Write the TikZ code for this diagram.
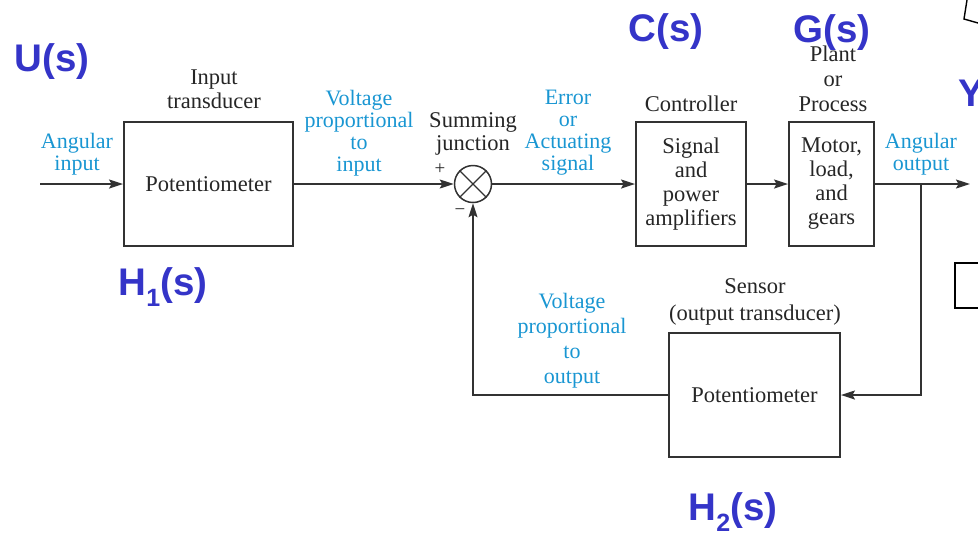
\documentclass[tikz,border=0pt]{standalone}
\usepackage{fontspec}
\setmainfont{Liberation Serif}
\newfontfamily\lblfont{Liberation Sans}
\usetikzlibrary{arrows.meta}
\definecolor{sig}{RGB}{25,150,210}
\definecolor{tf}{RGB}{52,52,200}
\definecolor{ln}{RGB}{50,50,50}
\begin{document}
\begin{tikzpicture}[x=1pt,y=-1pt,
  txt/.style={font=\fontsize{22.5}{23.5}\selectfont, align=center, text=black!85, inner sep=0pt},
  sigtxt/.style={txt, text=sig, font=\fontsize{22}{22}\selectfont},
  blk/.style={draw=ln, line width=1.9pt, rectangle, inner sep=0pt, align=center,
              font=\fontsize{22.5}{24}\selectfont, text=black!85},
  conn/.style={draw=ln, line width=1.5pt},
  arr/.style={conn, -{Stealth[length=14pt,width=9pt,inset=2.5pt]}},
  tflbl/.style={text=tf, font=\lblfont\bfseries\fontsize{38.5}{40}\selectfont, inner sep=0pt}]
\useasboundingbox (0,0) rectangle (978,542);

% blocks
\node[blk, minimum width=169pt, minimum height=124pt] (b1) at (208.5,184) {Potentiometer};
\node[blk, minimum width=110pt, minimum height=124pt] (ctrl) at (691,184) {Signal\\and\\power\\amplifiers};
\node[blk, minimum width=85pt, minimum height=124pt] (plant) at (831.5,184) {Motor,\\load,\\and\\gears};
\node[blk, minimum width=171pt, minimum height=124pt] (sens) at (754.5,395) {Potentiometer};
\node[draw=ln, line width=1.5pt, circle, minimum size=37pt, inner sep=0pt] (sum) at (473,184) {};
\draw[ln, line width=1.3pt] (sum.45) -- (sum.225) (sum.135) -- (sum.315);

% coordinates
\coordinate (in) at (40,184);
\coordinate (out) at (970,184);
\coordinate (br) at (921,184);

% connectors
\draw[arr] (in) -- (b1.west);
\draw[arr] (b1.east) -- (sum.west);
\draw[arr] (sum.east) -- (ctrl.west);
\draw[arr] (ctrl.east) -- (plant.west);
\draw[arr] (plant.east) -- (out);
\draw[arr] (br) |- (sens.east);
\draw[arr] (sens.west) -| (sum.south);

% black labels
\node[txt] (l1) at (214,89) {Input\\transducer};
\node[txt] (l2) at (473,134) {Summing\\junction};
\node[txt, font=\fontsize{19}{19}\selectfont] (plus) at (440,169) {+};
\node[txt, font=\fontsize{19}{19}\selectfont] (minus) at (460,212) {\textminus};
\node[txt] (l3) at (691,104) {Controller};
\node[txt, font=\fontsize{22.5}{25}\selectfont] (l4) at (833,79) {Plant\\or\\Process};
\node[txt, font=\fontsize{22.5}{27}\selectfont] (l5) at (755,301.5) {Sensor\\(output transducer)};

% blue signal labels
\node[sigtxt] (s1) at (77,154.5) {Angular\\input};
\node[sigtxt] (s2) at (359,133) {Voltage\\proportional\\to\\input};
\node[sigtxt] (s3) at (568,133) {Error\\or\\Actuating\\signal};
\node[sigtxt] (s4) at (921,154.5) {Angular\\output};
\node[sigtxt, font=\fontsize{22}{25}\selectfont] (s5) at (572,340.5) {Voltage\\proportional\\to\\output};

% transfer function labels
\node[tflbl] (U) at (52,62) {U(s)};
\node[tflbl] (H1) at (163,287) {H\raisebox{-0.3em}{\fontsize{25}{25}\selectfont 1}(s)};
\node[tflbl] (C) at (666,32) {C(s)};
\node[tflbl] (G) at (832,33) {G(s)};
\node[tflbl] (H2) at (733,512) {H\raisebox{-0.3em}{\fontsize{25}{25}\selectfont 2}(s)};
\node[tflbl, anchor=west] (Y) at (958,93) {Y};

% partial shapes at right edge
\draw[black, line width=1.4pt] (967,0) -- (964,19) -- (978,23);
\draw[black, line width=1.8pt] (978,263) -- (955,263) -- (955,308) -- (978,308);
\end{tikzpicture}
\end{document}
